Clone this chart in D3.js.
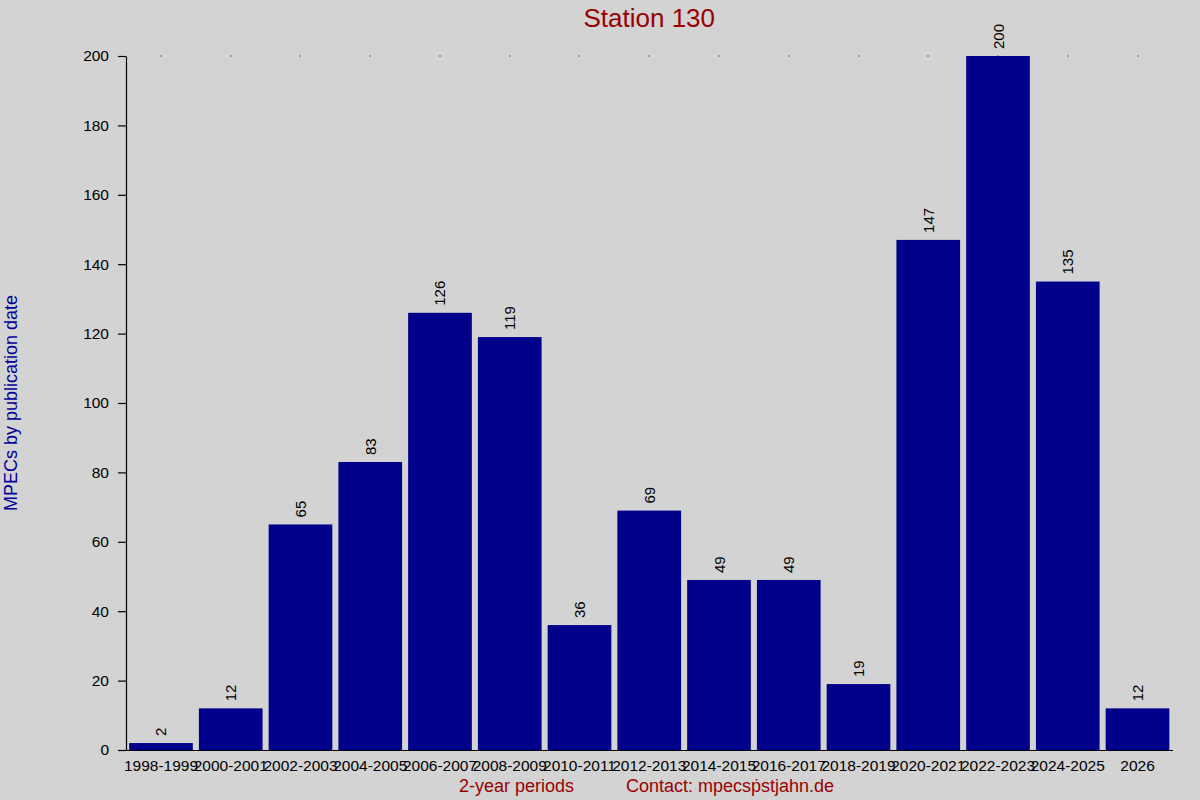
<!DOCTYPE html>
<html>
<head>
<meta charset="utf-8">
<script src="https://cdn.jsdelivr.net/npm/d3@7"></script>
<style>
  html, body { margin: 0; padding: 0; background: #d3d3d3; }
  svg { display: block; font-family: "Liberation Sans", Arial, sans-serif; }
</style>
</head>
<body>
<svg id="chart" width="1200" height="800"></svg>
<script>
const categories = ["1998-1999","2000-2001","2002-2003","2004-2005","2006-2007","2008-2009","2010-2011","2012-2013","2014-2015","2016-2017","2018-2019","2020-2021","2022-2023","2024-2025","2026"];
const values = [2, 12, 65, 83, 126, 119, 36, 69, 49, 49, 19, 147, 200, 135, 12];
const yTicks = [0, 20, 40, 60, 80, 100, 120, 140, 160, 180, 200];
const titleText = "Station 130";
const yTitle = "MPECs by publication date";
const xTitle = "2-year periods";
const contactText = "Contact: mpecsṗstjahn.de";

const svg = d3.select("#chart");
const W = 1200, H = 800;
const m = { left: 126, right: 1172.5, top: 56, bottom: 750 };

svg.append("rect").attr("width", W).attr("height", H).attr("fill", "#d3d3d3");

const x = d3.scaleBand().domain(categories).range([m.left, m.right]).paddingInner(0.087).paddingOuter(0.045);
const y = d3.scaleLinear().domain([0, 200]).range([m.bottom, m.top]);

// bars
svg.append("g").selectAll("rect").data(values).join("rect")
  .attr("x", (d, i) => x(categories[i]))
  .attr("y", d => y(d))
  .attr("width", x.bandwidth())
  .attr("height", d => y(0) - y(d))
  .attr("fill", "#00008b");

// small top dots at category centers
svg.append("g").selectAll("rect").data(categories).join("rect")
  .attr("x", d => Math.round(x(d) + x.bandwidth() / 2) - 0.5)
  .attr("y", y(200) - 0.5)
  .attr("width", 1).attr("height", 1)
  .attr("fill", "#000");

// value labels
svg.append("g").selectAll("text").data(values).join("text")
  .attr("transform", (d, i) => `translate(${x(categories[i]) + x.bandwidth() / 2 + 5.5},${y(d) - 7}) rotate(-90)`)
  .attr("text-anchor", "start")
  .attr("font-size", "15px")
  .attr("fill", "#000")
  .text(d => d);

// y axis
const yAxis = d3.axisLeft(y).tickValues(yTicks).tickSize(8).tickPadding(9).tickSizeOuter(0);
const gy = svg.append("g").attr("transform", `translate(${m.left},0)`).call(yAxis);
gy.select(".domain").attr("stroke", "#000").attr("stroke-width", 1.2);
gy.selectAll(".tick line").attr("stroke", "#000").attr("stroke-width", 1.2);
gy.selectAll(".tick text").attr("font-size", "15.5px").attr("fill", "#000")
  .attr("font-family", "'Liberation Sans', Arial, sans-serif");

// x axis
const xAxis = d3.axisBottom(x).tickSize(0).tickPadding(10).tickSizeOuter(0);
const gx = svg.append("g").attr("transform", `translate(0,${m.bottom})`).call(xAxis);
gx.select(".domain").attr("stroke", "#000").attr("stroke-width", 1.2);
gx.selectAll(".tick text").attr("font-size", "15.5px").attr("fill", "#000")
  .attr("font-family", "'Liberation Sans', Arial, sans-serif");

// title
svg.append("text").attr("x", (m.left + m.right) / 2).attr("y", 27)
  .attr("text-anchor", "middle").attr("font-size", "26px").attr("fill", "#990000")
  .text(titleText);

// y title
svg.append("text").attr("transform", `translate(17,${(m.top + m.bottom) / 2}) rotate(-90)`)
  .attr("text-anchor", "middle").attr("font-size", "18px").attr("fill", "#000099")
  .text(yTitle);

// footer
svg.append("text").attr("x", 516.5).attr("y", 792)
  .attr("text-anchor", "middle").attr("font-size", "18px").attr("fill", "#990000")
  .text(xTitle);
svg.append("text").attr("x", 626).attr("y", 792)
  .attr("text-anchor", "start").attr("font-size", "18px").attr("fill", "#990000")
  .text(contactText);
</script>
</body>
</html>
